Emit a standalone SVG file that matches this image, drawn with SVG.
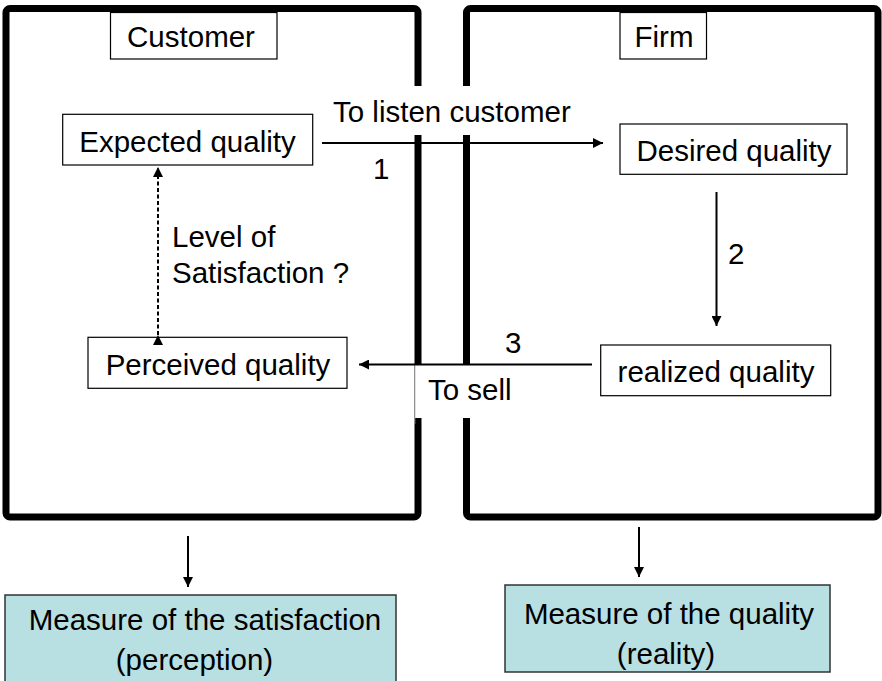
<svg xmlns="http://www.w3.org/2000/svg" width="882" height="681" viewBox="0 0 882 681">
<style>
text{font-family:"Liberation Sans",Arial,sans-serif;font-size:29.5px;fill:#000}
.c{text-anchor:middle}
.cont{fill:none;stroke:#000;stroke-width:7}
.box{fill:#fff;stroke:#000;stroke-width:1.2}
.mbox{fill:#B8DFE2;stroke:#333;stroke-width:1.5}
.ln{stroke:#000;stroke-width:2;fill:none}
</style>
<defs>
<marker id="ah" viewBox="0 0 10 10" refX="10" refY="5" markerWidth="5" markerHeight="5" orient="auto" markerUnits="strokeWidth">
<path d="M0,0 L10,5 L0,10 z" fill="#000"/>
</marker>
</defs>
<g id="customer-area">
<rect class="cont" x="6" y="8.5" width="412" height="508.5" rx="4"/>
</g>
<g id="firm-area">
<rect class="cont" x="466.5" y="8.5" width="411.5" height="508.5" rx="4"/>
</g>
<g id="to-listen-label">
<rect x="328" y="86" width="262" height="49" fill="#fff"/>
<text x="333" y="122">To listen customer</text>
</g>
<g id="to-sell-label">
<rect x="415" y="365" width="115" height="53" fill="#fff"/>
<line x1="414.8" y1="365" x2="414.8" y2="424" stroke="#999" stroke-width="1"/>
<text x="428" y="400">To sell</text>
</g>
<g id="customer">
<rect class="box" x="110.5" y="12.5" width="166.5" height="46.5"/>
<text class="c" x="191" y="47">Customer</text>
</g>
<g id="firm">
<rect class="box" x="620" y="12.5" width="86.5" height="46.5"/>
<text class="c" x="664" y="47">Firm</text>
</g>
<g id="expected">
<rect class="box" x="62.7" y="114.3" width="250" height="50.7"/>
<text class="c" x="187.5" y="152">Expected quality</text>
</g>
<g id="desired">
<rect class="box" x="620" y="124" width="227" height="50.3"/>
<text class="c" x="734" y="161">Desired quality</text>
</g>
<g id="perceived">
<rect class="box" x="88" y="337.3" width="259" height="51"/>
<text class="c" x="218" y="375">Perceived quality</text>
</g>
<g id="realized">
<rect class="box" x="600.7" y="345" width="230" height="50.7"/>
<text class="c" x="716" y="382">realized quality</text>
</g>
<g id="measure-satisfaction">
<rect class="mbox" x="5" y="595" width="391" height="95"/>
<text class="c" x="205" y="630">Measure of the satisfaction</text>
<text class="c" x="194.5" y="670">(perception)</text>
</g>
<g id="measure-quality">
<rect class="mbox" x="505" y="585" width="325" height="87"/>
<text class="c" x="669" y="624">Measure of the quality</text>
<text class="c" x="666" y="664">(reality)</text>
</g>
<g id="connectors">
<line class="ln" x1="322" y1="143" x2="603" y2="143" marker-end="url(#ah)"/>
<line class="ln" x1="716.5" y1="192" x2="716.5" y2="326" marker-end="url(#ah)"/>
<line class="ln" x1="592" y1="364.5" x2="359" y2="364.5" marker-end="url(#ah)"/>
<line class="ln" x1="158" y1="335" x2="158" y2="167" stroke-dasharray="4,2.5" marker-start="url(#ah)" marker-end="url(#ah)"/>
<line class="ln" x1="188" y1="536" x2="188" y2="587" marker-end="url(#ah)"/>
<line class="ln" x1="639" y1="527" x2="639" y2="577" marker-end="url(#ah)"/>
<text x="373" y="179">1</text>
<text x="728" y="264">2</text>
<text x="505" y="353">3</text>
<text x="172" y="247">Level of</text>
<text x="172" y="283">Satisfaction ?</text>
</g>
</svg>
